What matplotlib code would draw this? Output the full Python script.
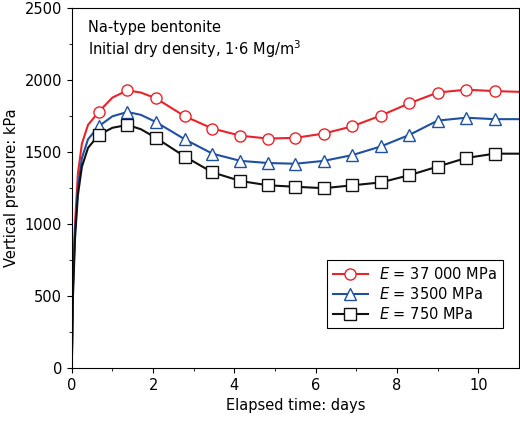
import matplotlib
matplotlib.use("Agg")
import matplotlib.pyplot as plt

days = [0, 0.03, 0.08, 0.15, 0.25, 0.4, 0.66, 1.0, 1.37, 1.7, 2.07, 2.78, 3.46, 4.15, 4.83, 5.5, 6.2, 6.9, 7.6, 8.3, 9.0, 9.7, 10.4, 11.0]
red = [0, 600, 1000, 1350, 1560, 1690, 1780, 1880, 1930, 1915, 1875, 1750, 1665, 1615, 1595, 1600, 1630, 1680, 1755, 1840, 1915, 1935, 1925, 1920]
blue = [0, 550, 950, 1250, 1460, 1590, 1680, 1750, 1780, 1760, 1710, 1590, 1490, 1440, 1425, 1420, 1440, 1480, 1540, 1620, 1720, 1740, 1730, 1730]
black = [0, 500, 900, 1200, 1400, 1530, 1620, 1670, 1690, 1660, 1600, 1470, 1360, 1300, 1270, 1260, 1250, 1270, 1290, 1340, 1400, 1460, 1490, 1490]
marks = [6, 8, 10, 11, 12, 13, 14, 15, 16, 17, 18, 19, 20, 21, 22]

fig, ax = plt.subplots(figsize=(5.2, 4.21), dpi=100)
fig.subplots_adjust(left=0.138, right=0.998, top=0.98, bottom=0.126)
for y, c, m, lab in [(red, '#e8232a', 'o', r'$E$ = 37 000 MPa'),
                     (blue, '#1f4fa0', '^', r'$E$ = 3500 MPa'),
                     (black, '#111111', 's', r'$E$ = 750 MPa')]:
    ax.plot(days, y, color=c, lw=1.5, marker=m, markevery=marks, ms=8,
            mfc='white', mec=c, mew=1.0, label=lab)
ax.set_xlim(0, 11)
ax.set_ylim(0, 2500)
ax.set_xticks([0, 2, 4, 6, 8, 10])
ax.set_xticks([1, 3, 5, 7, 9], minor=True)
ax.set_yticks(range(0, 2501, 500))
ax.set_yticks(range(250, 2500, 500), minor=True)
ax.tick_params(labelsize=10.5)
ax.set_xlabel('Elapsed time: days', fontsize=10.5)
ax.set_ylabel('Vertical pressure: kPa', fontsize=10.5)
ax.text(0.4, 2420, 'Na-type bentonite\nInitial dry density, 1·6 Mg/m$^3$', fontsize=10.5, va='top', linespacing=1.2)
leg = ax.legend(loc='lower right', bbox_to_anchor=(0.98, 0.09), fontsize=10.5, fancybox=False,
                edgecolor='black', framealpha=1, handlelength=2.4, borderpad=0.4, labelspacing=0.3)
leg.get_frame().set_linewidth(0.8)
fig.savefig('out.png', dpi=100)
